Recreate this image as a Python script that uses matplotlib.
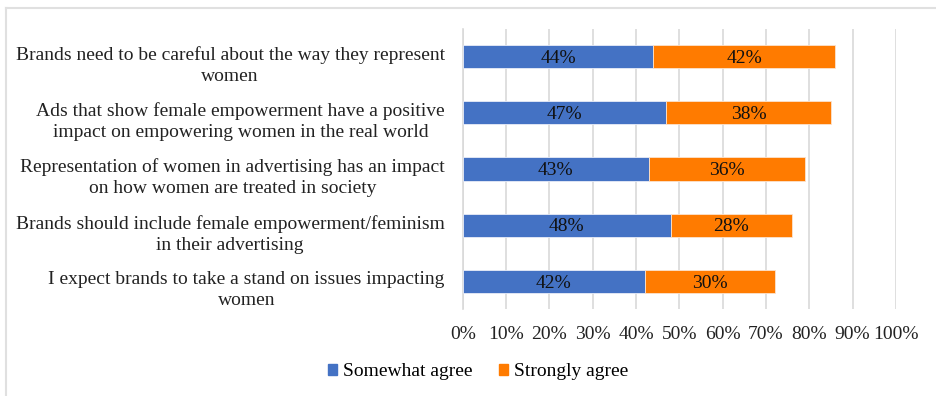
import matplotlib
matplotlib.use("Agg")
import matplotlib.pyplot as plt
from matplotlib.lines import Line2D
from matplotlib.patches import Patch

categories = [
    "Brands need to be careful about the way they represent\nwomen",
    "Ads that show female empowerment have a positive\nimpact on empowering women in the real world",
    "Representation of women in advertising has an impact\non how women are treated in society",
    "Brands should include female empowerment/feminism\nin their advertising",
    "I expect brands to take a stand on issues impacting\nwomen",
]
somewhat = [44, 47, 43, 48, 42]
strongly = [42, 38, 36, 28, 30]
series_names = ["Somewhat agree", "Strongly agree"]
xticks = [0, 10, 20, 30, 40, 50, 60, 70, 80, 90, 100]
xtick_labels = [f"{v}%" for v in xticks]

blue = "#4472C4"
orange = "#FF7B00"
grid_c = "#D9D9D9"
FS = 14

plt.rcParams['font.family'] = ['Liberation Serif', 'DejaVu Serif']

fig = plt.figure(figsize=(9.37, 3.96), dpi=100)
ax = fig.add_axes([462.7/937, 1-309.4/396, (896-462.7)/937, (309.4-28.6)/396])

y = list(range(len(categories)))
h = 0.41
b1 = ax.barh(y, somewhat, height=h, color=blue, edgecolor="#E8ECF7", linewidth=0.6, zorder=3)
b2 = ax.barh(y, strongly, left=somewhat, height=h, color=orange, edgecolor="#FBE3CF", linewidth=0.6, zorder=3)

for bars, vals, lefts in ((b1, somewhat, [0]*5), (b2, strongly, somewhat)):
    for yi, v, l in zip(y, vals, lefts):
        ax.text(l + v/2, yi + 0.03, f"{v}%", ha="center", va="center", fontsize=FS, color="#111111", zorder=4)

ax.set_xlim(0, 100)
ax.set_ylim(len(categories)-0.5, -0.5)
ax.set_xticks(xticks)
ax.set_xticklabels(xtick_labels, fontsize=FS, color="#222222")
ax.set_yticks([yi + 0.09 for yi in y])
ax.set_yticklabels(categories, fontsize=FS, color="#222222", linespacing=1.3)
for lbl in ax.get_yticklabels():
    lbl.set_multialignment("center")
ax.tick_params(axis="both", length=0)
ax.tick_params(axis="x", pad=12)
ax.tick_params(axis="y", pad=13)
ax.grid(axis="x", color=grid_c, linewidth=1.2, zorder=0)
ax.set_axisbelow(True)
for s in ("top", "right", "bottom"):
    ax.spines[s].set_visible(False)
ax.spines["left"].set_color(grid_c)
ax.spines["left"].set_linewidth(1.2)

handles = [Patch(color=blue), Patch(color=orange)]
fig.legend(handles, series_names, loc="center", bbox_to_anchor=(478/937, 1-372/396),
           ncol=2, frameon=False, fontsize=FS, handlelength=0.45, handleheight=0.45,
           handletextpad=0.3, columnspacing=1.4)

# partial frame (top and left) as in the reference
fig.add_artist(Line2D([6.5/937, 1], [1-8/396, 1-8/396], color="#E0E0E0", linewidth=1.5, transform=fig.transFigure))
fig.add_artist(Line2D([6.5/937, 6.5/937], [0, 1-8/396], color="#E0E0E0", linewidth=1.5, transform=fig.transFigure))

fig.savefig("out.png", dpi=100)
